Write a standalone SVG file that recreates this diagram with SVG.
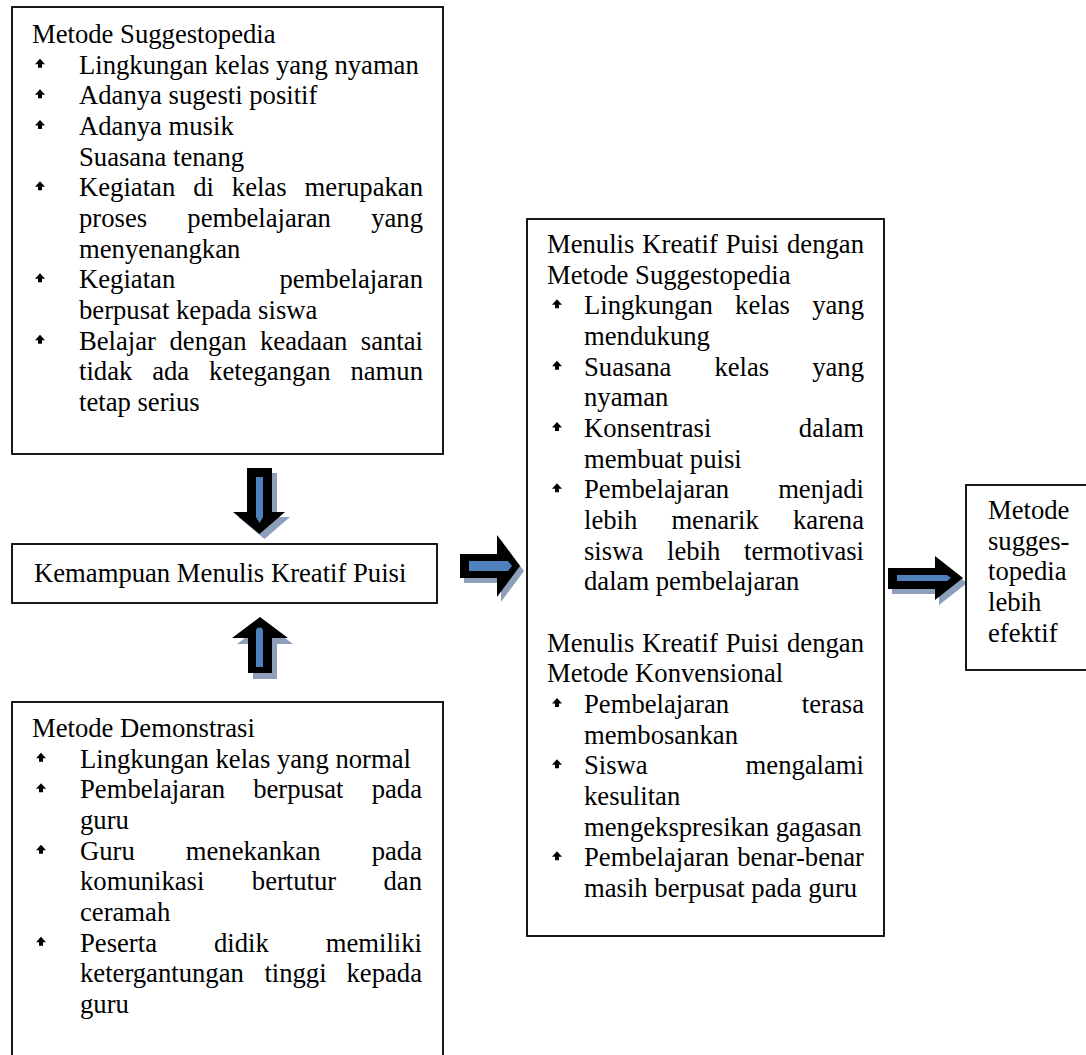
<svg xmlns="http://www.w3.org/2000/svg" width="1086" height="1055" viewBox="0 0 1086 1055">
<style>
.box{fill:#fff;stroke:#000;stroke-width:1.8}
text{font-family:"Liberation Serif","Times New Roman",serif;font-size:26.67px;fill:#000}
.e{text-anchor:end}
.blk{fill:#000}
.blue{fill:#4f81bd}
.shd{fill:#8d9fbb}
</style>
<defs>
<path id="b" d="M0,-5 L5,0.5 H2 V4 H-2 V0.5 H-5 Z" fill="#000"/>
</defs>
<rect width="1086" height="1055" fill="#fff"/>

<g id="connectors">
  <g id="arrow-down">
    <path class="shd" d="M252,473 H277 V517 H290 L264.5,539 L238,517 H252 Z"/>
    <path class="blk" d="M247,468 H272 V512 H285 L259.5,534 L233,512 H247 Z"/>
    <path class="blue" d="M256,477 H263 V517 L259.5,523 L256,517 Z"/>
  </g>
  <g id="arrow-up">
    <path class="shd" d="M265,623 L293,644 H277 V679 H253 V644 H237 Z"/>
    <path class="blk" d="M260,617 L288,638 H272 V673 H248 V638 H232 Z"/>
    <path class="blue" d="M256,631 A3.5,3.5 0 0 1 263,631 V667 H256 Z"/>
  </g>
  <g id="arrow-right-1">
    <path class="shd" d="M464,559 H501 V540 L524,571 L501,602 V583 H464 Z"/>
    <path class="blk" d="M460,554 H497 V535 L520,566 L497,597 V578 H460 Z"/>
    <path class="blue" d="M469,561 H508 L512,566 L508,571 H469 Z"/>
  </g>
  <g id="arrow-right-2">
    <path class="shd" d="M892,573 H939 V561 L967,583 L939,605 V594 H892 Z"/>
    <path class="blk" d="M888,568 H935 V556 L963,578 L935,600 V589 H888 Z"/>
    <path class="blue" d="M897,575 H947 L951,578 L947,581 H897 Z"/>
  </g>
</g>

<g id="node-suggestopedia">
  <rect class="box" x="12" y="7" width="431" height="447"/>
  <text x="32" y="43">Metode Suggestopedia</text>
  <use href="#b" x="40" y="63.7"/><text x="79" y="73.7">Lingkungan kelas yang nyaman</text>
  <use href="#b" x="40" y="94.3"/><text x="79" y="104.3">Adanya sugesti positif</text>
  <use href="#b" x="40" y="125"/><text x="79" y="135">Adanya musik</text>
  <text x="79" y="165.7">Suasana tenang</text>
  <use href="#b" x="40" y="186.3"/><text y="196.3"><tspan x="79">Kegiatan</tspan><tspan x="193.2">di</tspan><tspan x="231.8">kelas</tspan></text><text class="e" x="423" y="196.3">merupakan</text>
  <text y="227"><tspan x="79">proses</tspan><tspan x="187.3">pembelajaran</tspan></text><text class="e" x="423" y="227">yang</text>
  <text x="79" y="257.7">menyenangkan</text>
  <use href="#b" x="40" y="278.3"/><text x="79" y="288.3">Kegiatan</text><text class="e" x="423" y="288.3">pembelajaran</text>
  <text x="79" y="319">berpusat kepada siswa</text>
  <use href="#b" x="40" y="339.7"/><text y="349.7"><tspan x="79">Belajar</tspan><tspan x="169.5">dengan</tspan><tspan x="260">keadaan</tspan></text><text class="e" x="423" y="349.7">santai</text>
  <text y="380.3"><tspan x="79">tidak</tspan><tspan x="152.2">ada</tspan><tspan x="209.1">ketegangan</tspan></text><text class="e" x="423" y="380.3">namun</text>
  <text x="79" y="411">tetap serius</text>
</g>

<g id="node-kemampuan">
  <rect class="box" x="12" y="544" width="425" height="59"/>
  <text x="34" y="582">Kemampuan Menulis Kreatif Puisi</text>
</g>

<g id="node-demonstrasi">
  <rect class="box" x="12" y="702" width="431" height="370"/>
  <text x="32" y="737">Metode Demonstrasi</text>
  <use href="#b" x="41" y="757.7"/><text x="80" y="767.7">Lingkungan kelas yang normal</text>
  <use href="#b" x="41" y="788.3"/><text y="798.3"><tspan x="80">Pembelajaran</tspan><tspan x="253.2">berpusat</tspan></text><text class="e" x="422" y="798.3">pada</text>
  <text x="80" y="829">guru</text>
  <use href="#b" x="41" y="849.7"/><text y="859.7"><tspan x="80">Guru</tspan><tspan x="185.8">menekankan</tspan></text><text class="e" x="422" y="859.7">pada</text>
  <text y="890.3"><tspan x="80">komunikasi</tspan><tspan x="251.8">bertutur</tspan></text><text class="e" x="422" y="890.3">dan</text>
  <text x="80" y="921">ceramah</text>
  <use href="#b" x="41" y="941.7"/><text y="951.7"><tspan x="80">Peserta</tspan><tspan x="214">didik</tspan></text><text class="e" x="422" y="951.7">memiliki</text>
  <text y="982.3"><tspan x="80">ketergantungan</tspan><tspan x="264.4">tinggi</tspan></text><text class="e" x="422" y="982.3">kepada</text>
  <text x="80" y="1013">guru</text>
</g>

<g id="node-menulis">
  <rect class="box" x="527" y="219" width="357" height="717"/>
  <text y="253"><tspan x="547">Menulis</tspan><tspan x="642.3">Kreatif</tspan><tspan x="725.7">Puisi</tspan></text><text class="e" x="864" y="253">dengan</text>
  <text x="547" y="283.7">Metode Suggestopedia</text>
  <use href="#b" x="557" y="304.3"/><text y="314.3"><tspan x="584">Lingkungan</tspan><tspan x="735.1">kelas</tspan></text><text class="e" x="864" y="314.3">yang</text>
  <text x="584" y="345">mendukung</text>
  <use href="#b" x="557" y="365.7"/><text y="375.7"><tspan x="584">Suasana</tspan><tspan x="714.4">kelas</tspan></text><text class="e" x="864" y="375.7">yang</text>
  <text x="584" y="406.3">nyaman</text>
  <use href="#b" x="557" y="427"/><text x="584" y="437">Konsentrasi</text><text class="e" x="864" y="437">dalam</text>
  <text x="584" y="467.7">membuat puisi</text>
  <use href="#b" x="557" y="488.3"/><text x="584" y="498.3">Pembelajaran</text><text class="e" x="864" y="498.3">menjadi</text>
  <text y="529"><tspan x="584">lebih</tspan><tspan x="671.4">menarik</tspan></text><text class="e" x="864" y="529">karena</text>
  <text y="559.7"><tspan x="584">siswa</tspan><tspan x="667">lebih</tspan></text><text class="e" x="864" y="559.7">termotivasi</text>
  <text x="584" y="590.3">dalam pembelajaran</text>
  <text y="651.7"><tspan x="547">Menulis</tspan><tspan x="642.3">Kreatif</tspan><tspan x="725.7">Puisi</tspan></text><text class="e" x="864" y="651.7">dengan</text>
  <text x="547" y="682.3">Metode Konvensional</text>
  <use href="#b" x="557" y="703"/><text x="584" y="713">Pembelajaran</text><text class="e" x="864" y="713">terasa</text>
  <text x="584" y="743.7">membosankan</text>
  <use href="#b" x="557" y="764.3"/><text x="584" y="774.3">Siswa</text><text class="e" x="864" y="774.3">mengalami</text>
  <text x="584" y="805">kesulitan</text>
  <text x="584" y="835.7">mengekspresikan gagasan</text>
  <use href="#b" x="557" y="856.3"/><text x="584" y="866.3">Pembelajaran</text><text class="e" x="864" y="866.3">benar-benar</text>
  <text x="584" y="897">masih berpusat pada guru</text>
</g>

<g id="node-hasil">
  <rect class="box" x="966" y="485" width="140" height="185"/>
  <text x="988" y="519">Metode</text>
  <text x="988" y="549.7">sugges-</text>
  <text x="988" y="580.3">topedia</text>
  <text x="988" y="611">lebih</text>
  <text x="988" y="641.7">efektif</text>
</g>
</svg>
